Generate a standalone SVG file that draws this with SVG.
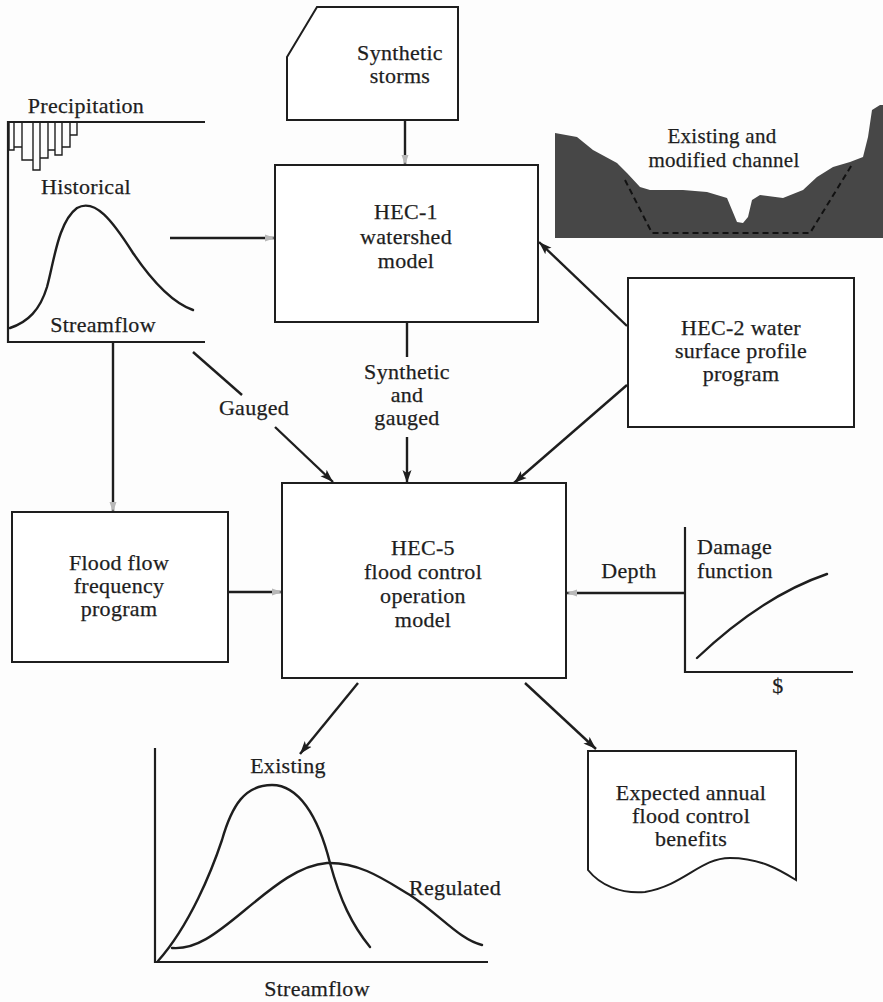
<svg xmlns="http://www.w3.org/2000/svg" width="883" height="1002" viewBox="0 0 883 1002">
  <style>
    .t { font-family: "Liberation Serif", "Times New Roman", serif; font-size: 22px; fill: #1e1e1e; stroke: #1e1e1e; stroke-width: 0.25; text-anchor: middle; letter-spacing: 0.3px; }
    .tl { text-anchor: start; }
    .sm { font-size: 21px; }
    .box { fill: #ffffff; stroke: #1e1e1e; stroke-width: 2; }
    .ax { fill: none; stroke: #1e1e1e; stroke-width: 2.2; }
    .crv { fill: none; stroke: #1e1e1e; stroke-width: 2.4; stroke-linecap: round; }
    .ln { fill: none; stroke: #1e1e1e; stroke-width: 2.4; }
    .arw { marker-end: url(#head); }
    .faint { marker-end: url(#ghost); }
  </style>
  <defs>
    <marker id="head" markerWidth="14" markerHeight="10" refX="13" refY="5" orient="auto" markerUnits="userSpaceOnUse">
      <path d="M0,0.5 L13,5 L0,9.5 L3,5 Z" fill="#1e1e1e"/>
    </marker>
    <marker id="ghost" markerWidth="14" markerHeight="10" refX="13" refY="5" orient="auto" markerUnits="userSpaceOnUse">
      <path d="M3,1.5 L13,5 L3,8.5 Z" fill="#b8b8b8"/>
    </marker>
  </defs>
  <rect width="883" height="1002" fill="#fdfdfd"/>

  <!-- Connectors -->
  <g id="connectors">
    <line class="ln faint" x1="405" y1="120" x2="405" y2="165"/>
    <line class="ln faint" x1="170" y1="238" x2="275" y2="238"/>
    <line class="ln arw" x1="627" y1="326" x2="539" y2="242"/>
    <line class="ln" x1="407" y1="322" x2="407" y2="357"/>
    <line class="ln arw" x1="407" y1="437" x2="407" y2="483"/>
    <line class="ln" x1="193" y1="352" x2="242" y2="395"/>
    <line class="ln arw" x1="275" y1="427" x2="333" y2="482"/>
    <line class="ln arw" x1="627" y1="385" x2="514" y2="483"/>
    <line class="ln faint" x1="113" y1="342" x2="113" y2="512"/>
    <line class="ln faint" x1="229" y1="592" x2="282" y2="592"/>
    <line class="ln faint" x1="685" y1="593" x2="567" y2="593"/>
    <line class="ln arw" x1="358" y1="683" x2="300" y2="754"/>
    <line class="ln arw" x1="525" y1="683" x2="596" y2="749"/>
    <text class="t" x="254" y="415">Gauged</text>
    <text class="t" x="407" y="379">Synthetic</text>
    <text class="t" x="407" y="402">and</text>
    <text class="t" x="407" y="425">gauged</text>
    <text class="t" x="629" y="578">Depth</text>
  </g>

  <!-- Synthetic storms (card shape) -->
  <g id="synthetic-storms">
    <path class="box" d="M317,7 H458 V120 H287 V57 Z"/>
    <text class="t" x="400" y="60">Synthetic</text>
    <text class="t" x="400" y="83">storms</text>
  </g>

  <!-- Historical precipitation and streamflow -->
  <g id="historical">
    <text class="t" x="86" y="113">Precipitation</text>
    <path class="ax" d="M205,122 H8 V342 H205"/>
    <path d="M9,122 V150 H14 V147 H22 V160 H33 V170 H40 V158 H48 V150 H55 V155 H62 V147 H70 V135 H77 V122 M14,122 V147 M22,122 V147 M33,122 V160 M40,122 V158 M48,122 V150 M55,122 V150 M62,122 V147 M70,122 V135" fill="none" stroke="#1e1e1e" stroke-width="1.4"/>
    <text class="t" x="86" y="194">Historical</text>
    <path class="crv" d="M10,328 C28,322 40,310 47,287 C54,262 58,222 77,208 C95,198 112,220 133,253 C150,278 170,302 193,310"/>
    <text class="t" x="103" y="332">Streamflow</text>
  </g>

  <!-- HEC-1 -->
  <g id="hec1">
    <rect class="box" x="275" y="165" width="263" height="157"/>
    <text class="t" x="406" y="219">HEC-1</text>
    <text class="t" x="406" y="244">watershed</text>
    <text class="t" x="406" y="268">model</text>
  </g>

  <!-- Channel cross-section -->
  <g id="channel">
    <path d="M555,133 L577,137 L593,150 L617,163 L627,173 L640,187 L650,190 L683,190 L707,192 L727,198 L732,210 L737,222 L743,223 L748,217 L752,200 L760,195 L783,198 L803,190 L817,177 L833,167 L850,162 L863,157 L868,137 L872,110 L880,105 L883,105 L883,238 L555,238 Z" fill="#474747"/>
    <path d="M625,180 L652,233 L810,233 L853,163" fill="none" stroke="#111" stroke-width="2" stroke-dasharray="6,4"/>
    <text class="t sm" x="722" y="143">Existing and</text>
    <text class="t sm" x="724" y="167">modified channel</text>
  </g>

  <!-- HEC-2 -->
  <g id="hec2">
    <rect class="box" x="628" y="278" width="226" height="149"/>
    <text class="t" x="741" y="335">HEC-2 water</text>
    <text class="t" x="741" y="358">surface profile</text>
    <text class="t" x="741" y="381">program</text>
  </g>

  <!-- Flood flow frequency -->
  <g id="flood-frequency">
    <rect class="box" x="12" y="512" width="216" height="150"/>
    <text class="t" x="119" y="570">Flood flow</text>
    <text class="t" x="119" y="593">frequency</text>
    <text class="t" x="119" y="616">program</text>
  </g>

  <!-- HEC-5 -->
  <g id="hec5">
    <rect class="box" x="282" y="483" width="284" height="195"/>
    <text class="t" x="423" y="555">HEC-5</text>
    <text class="t" x="423" y="579">flood control</text>
    <text class="t" x="423" y="603">operation</text>
    <text class="t" x="423" y="627">model</text>
  </g>

  <!-- Damage function -->
  <g id="damage">
    <path class="ax" d="M685,527 V672 H853"/>
    <text class="t tl" x="697" y="554">Damage</text>
    <text class="t tl" x="697" y="578">function</text>
    <path class="crv" d="M697,658 C735,622 780,590 827,574"/>
    <text class="t" x="778" y="693">$</text>
  </g>

  <!-- Existing vs regulated streamflow -->
  <g id="streamflow">
    <path class="ax" d="M155,748 V962 H488"/>
    <text class="t" x="288" y="773">Existing</text>
    <path class="crv" d="M158,961 C190,925 212,870 222,840 C232,805 245,785 272,785 C298,785 318,815 330,863 C340,900 352,925 370,947"/>
    <path class="crv" d="M172,948 C195,950 215,935 245,910 C275,885 300,865 327,863 C360,862 385,880 410,895 C440,915 460,940 482,945"/>
    <text class="t" x="455" y="895">Regulated</text>
    <text class="t" x="317" y="996">Streamflow</text>
  </g>

  <!-- Expected annual benefits (document shape) -->
  <g id="benefits">
    <path class="box" d="M588,751 H796 V880 C780,870 760,858 730,858 C700,858 685,885 645,892 C620,894 600,885 588,870 Z"/>
    <text class="t" x="691" y="800">Expected annual</text>
    <text class="t" x="691" y="823">flood control</text>
    <text class="t" x="691" y="846">benefits</text>
  </g>
</svg>
